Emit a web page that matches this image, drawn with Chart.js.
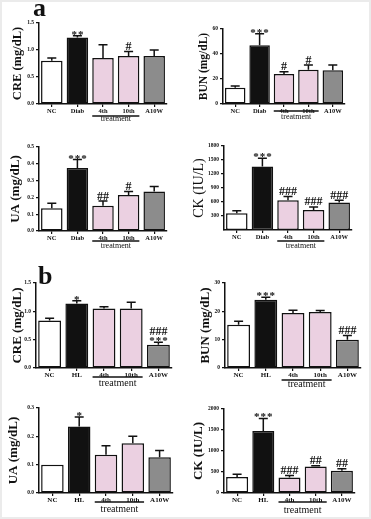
<!DOCTYPE html>
<html>
<head>
<meta charset="utf-8">
<script src="https://cdn.jsdelivr.net/npm/chart.js@4.4.0/dist/chart.umd.min.js"></script>
<style>
  body { margin: 0; background: #fff; }
  #fig { position: relative; width: 371px; height: 519px; overflow: hidden; box-shadow: inset 0 0 0 2px #ebebeb; }
  canvas { position: absolute; }
  .lab { position: absolute; font: bold 26px "Liberation Serif", serif; line-height: 26px; color: #111; }
</style>
</head>
<body>
<div id="fig">
  <canvas id="c1"></canvas><canvas id="c2"></canvas>
  <canvas id="c3"></canvas><canvas id="c4"></canvas>
  <canvas id="c5"></canvas><canvas id="c6"></canvas>
  <canvas id="c7"></canvas><canvas id="c8"></canvas>
  <div class="lab" style="left:33px;top:-5px">a</div>
  <div class="lab" style="left:38px;top:263px">b</div>
</div>
<script>
// groups
const groupsA = ['NC', 'Diab', '4th', '10th', 'A10W'];
const groupsB = ['NC', 'HL', '4th', '10th', 'A10W'];

// (a) diabetic model: mean and SEM
const creA = [0.80, 1.23, 0.85, 0.89, 0.89];
const creASem = [0.05, 0.035, 0.245, 0.08, 0.11];
const bunA = [13, 47, 24, 27.5, 27];
const bunASem = [1.4, 9.2, 1.9, 3.7, 4.2];
const uaA = [0.135, 0.375, 0.15, 0.215, 0.235];
const uaASem = [0.03, 0.05, 0.028, 0.02, 0.03];
const ckA = [360, 1360, 640, 430, 590];
const ckASem = [55, 180, 80, 65, 50];

// (b) HL model
const creB = [0.84, 1.14, 1.05, 1.05, 0.41];
const creBSem = [0.04, 0.045, 0.03, 0.11, 0.045];
const bunB = [15.3, 24.1, 19.4, 19.8, 10];
const bunBSem = [1.2, 0.9, 1.0, 0.5, 1.5];
const uaB = [0.10, 0.235, 0.135, 0.176, 0.126];
const uaBSem = [0, 0.033, 0.032, 0.024, 0.024];
const ckB = [380, 1475, 370, 630, 530];
const ckBSem = [65, 300, 45, 18, 45];

// significance marks
const creAStars = ['', '**', '', '', ''],  creAHash = ['', '', '', '#', ''];
const bunAStars = ['', '***', '', '', ''], bunAHash = ['', '', '#', '#', ''];
const uaAStars = ['', '***', '', '', ''],  uaAHash = ['', '', '##', '#', ''];
const ckAStars = ['', '***', '', '', ''],  ckAHash = ['', '', '###', '###', '###'];
const creBStars = ['', '*', '', '', '***'], creBHash = ['', '', '', '', '###'];
const bunBStars = ['', '***', '', '', ''], bunBHash = ['', '', '', '', '###'];
const uaBStars = ['', '*', '', '', ''],    uaBHash = ['', '', '', '', ''];
const ckBStars = ['', '***', '', '', ''],  ckBHash = ['', '', '###', '##', '##'];

// y tick labels
const creTicks = [0, 0.5, 1.0, 1.5];
const bunATicks = [0, 20, 40, 60];
const uaATicks = [0, 0.1, 0.2, 0.3, 0.4, 0.5];
const ckATicks = [300, 600, 900, 1200, 1500, 1800];
const bunBTicks = [0, 10, 20, 30];
const uaBTicks = [0, 0.1, 0.2, 0.3];
const ckBTicks = [0, 500, 1000, 1500, 2000];

const barColors = ['#ffffff', '#111111', '#ebd0e1', '#ebd0e1', '#8c8c8c'];
const serif = '"Liberation Serif", serif';

const panels = [
  { id: 'c1', x: 0, y: 0, w: 185, h: 130, axisX: 39, top: 23, right: 167, bottom: 104,
    labels: groupsA, means: creA, sem: creASem, stars: creAStars, hash: creAHash,
    max: 1.5, ticks: creTicks, dec: 1, title: 'CRE (mg/dL)', tSize: 12.5, tWeight: 'bold', titleX: 18,
    lineOff: 12, textOff: 15, trSize: 8, labSize: 6.5 },
  { id: 'c2', x: 185, y: 0, w: 186, h: 130, axisX: 223, top: 29, right: 345, bottom: 104,
    labels: groupsA, means: bunA, sem: bunASem, stars: bunAStars, hash: bunAHash,
    max: 60, ticks: bunATicks, dec: 0, title: 'BUN (mg/dL)', tSize: 11.5, tWeight: 'bold', titleX: 19,
    lineOff: 7, textOff: 13, trSize: 8, labSize: 6.5 },
  { id: 'c3', x: 0, y: 128, w: 185, h: 127, axisX: 39, top: 147, right: 167, bottom: 231,
    labels: groupsA, means: uaA, sem: uaASem, stars: uaAStars, hash: uaAHash,
    max: 0.5, ticks: uaATicks, dec: 1, title: 'UA (mg/dL)', tSize: 13, tWeight: 'bold', titleX: 16,
    lineOff: 10, textOff: 15, trSize: 8, labSize: 6.5 },
  { id: 'c4', x: 185, y: 128, w: 186, h: 127, axisX: 224, top: 146, right: 352, bottom: 230,
    labels: groupsA, means: ckA, sem: ckASem, stars: ckAStars, hash: ckAHash,
    max: 1800, ticks: ckATicks, dec: 0, title: 'CK (IU/L)', tSize: 14, tWeight: 'normal', titleX: 14,
    lineOff: 11, textOff: 16, trSize: 8, labSize: 6.5 },
  { id: 'c5', x: 0, y: 255, w: 185, h: 135, axisX: 36, top: 283, right: 172, bottom: 368,
    labels: groupsB, means: creB, sem: creBSem, stars: creBStars, hash: creBHash,
    max: 1.5, ticks: creTicks, dec: 1, title: 'CRE (mg/dL)', tSize: 13, tWeight: 'bold', titleX: 17.5,
    lineOff: 9, textOff: 15, trSize: 10, labSize: 7 },
  { id: 'c6', x: 185, y: 255, w: 186, h: 135, axisX: 225, top: 283, right: 361, bottom: 368,
    labels: groupsB, means: bunB, sem: bunBSem, stars: bunBStars, hash: bunBHash,
    max: 30, ticks: bunBTicks, dec: 0, title: 'BUN (mg/dL)', tSize: 13, tWeight: 'bold', titleX: 21,
    lineOff: 12, textOff: 16, trSize: 10, labSize: 7 },
  { id: 'c7', x: 0, y: 385, w: 185, h: 134, axisX: 39, top: 408, right: 173, bottom: 493,
    labels: groupsB, means: uaB, sem: uaBSem, stars: uaBStars, hash: uaBHash,
    max: 0.3, ticks: uaBTicks, dec: 1, title: 'UA (mg/dL)', tSize: 13, tWeight: 'bold', titleX: 14,
    lineOff: 9, textOff: 16, trSize: 10, labSize: 7 },
  { id: 'c8', x: 185, y: 385, w: 186, h: 134, axisX: 224, top: 409, right: 355, bottom: 493,
    labels: groupsB, means: ckB, sem: ckBSem, stars: ckBStars, hash: ckBHash,
    max: 2000, ticks: ckBTicks, dec: 0, title: 'CK (IU/L)', tSize: 13, tWeight: 'bold', titleX: 14,
    lineOff: 9, textOff: 17, trSize: 10, labSize: 7 }
];

// error bars, significance marks and the "treatment" bracket
function extrasPlugin(p) {
  return {
    id: 'extras',
    afterDatasetsDraw(chart) {
      const ctx = chart.ctx;
      const meta = chart.getDatasetMeta(0);
      const ys = chart.scales.y;
      ctx.save();
      ctx.strokeStyle = '#111';
      ctx.fillStyle = '#111';
      ctx.lineWidth = 1.5;
      meta.data.forEach((bar, i) => {
        const top = ys.getPixelForValue(p.means[i] + p.sem[i]);
        if (p.sem[i] > 0) {
          ctx.beginPath();
          ctx.moveTo(bar.x, bar.y);
          ctx.lineTo(bar.x, top);
          ctx.moveTo(bar.x - 4.5, top);
          ctx.lineTo(bar.x + 4.5, top);
          ctx.stroke();
        }
        let ay = top - 1;
        ctx.textAlign = 'center';
        ctx.textBaseline = 'alphabetic';
        if (p.stars[i]) {
          ctx.font = 'bold 11px ' + serif;
          ctx.letterSpacing = '1px';
          ctx.fillText(p.stars[i], bar.x + 0.5, ay + 3);
          ay -= 5.5;
        }
        if (p.hash[i]) {
          ctx.font = 'bold 12px ' + serif;
          ctx.letterSpacing = '0px';
          ctx.fillText(p.hash[i], bar.x, ay - 0.5);
        }
      });
      // treatment bracket under 4th and 10th
      const b2 = meta.data[2], b3 = meta.data[3];
      const x0 = b2.x - b2.width / 2, x1 = b3.x + b3.width / 2;
      const base = chart.chartArea.bottom;
      ctx.beginPath();
      ctx.moveTo(x0, base + p.lineOff);
      ctx.lineTo(x1, base + p.lineOff);
      ctx.stroke();
      ctx.letterSpacing = '0px';
      ctx.font = p.trSize + 'px ' + serif;
      ctx.textBaseline = 'middle';
      ctx.fillText('treatment', (x0 + x1) / 2, base + p.textOff);
      ctx.restore();
    }
  };
}

function makePanel(p) {
  const cv = document.getElementById(p.id);
  cv.width = p.w; cv.height = p.h;
  cv.style.left = p.x + 'px'; cv.style.top = p.y + 'px';
  const yWidth = p.axisX - p.x;
  const padTop = p.top - p.y;
  const padRight = p.x + p.w - p.right;
  const xHeight = p.y + p.h - p.bottom;

  new Chart(cv, {
    type: 'bar',
    data: {
      labels: p.labels,
      datasets: [{
        data: p.means,
        backgroundColor: barColors,
        borderColor: '#111',
        borderWidth: 1.5,
        borderSkipped: false,
        barPercentage: 0.84,
        categoryPercentage: 1
      }]
    },
    options: {
      responsive: false,
      animation: false,
      events: [],
      layout: { padding: { top: padTop, right: padRight, left: 0, bottom: 0 } },
      plugins: { legend: { display: false }, tooltip: { enabled: false } },
      scales: {
        x: {
          grid: { drawOnChartArea: false, offset: false, tickLength: 3, color: '#111', lineWidth: 1.2 },
          border: { color: '#111', width: 1.5 },
          ticks: { color: '#111', padding: 0, maxRotation: 0, autoSkip: false,
                   font: { family: serif, size: p.labSize, weight: 'bold' } },
          afterFit: s => { s.height = xHeight; }
        },
        y: {
          min: 0, max: p.max,
          grid: { drawOnChartArea: false, tickLength: 3, color: '#111', lineWidth: 1.2 },
          border: { color: '#111', width: 1.5 },
          ticks: { color: '#111', padding: 2,
                   font: { family: serif, size: 5.5, weight: 'bold' },
                   callback: v => Number(v).toFixed(p.dec) },
          afterBuildTicks: s => { s.ticks = p.ticks.map(v => ({ value: v })); },
          title: { display: true, text: p.title, color: '#111',
                   font: { family: serif, size: p.tSize, weight: p.tWeight },
                   padding: { top: p.titleX - p.tSize * 0.6, bottom: 0 } },
          afterFit: s => { s.width = yWidth; }
        }
      }
    },
    plugins: [extrasPlugin(p)]
  });
}

panels.forEach(makePanel);
</script>
</body>
</html>
